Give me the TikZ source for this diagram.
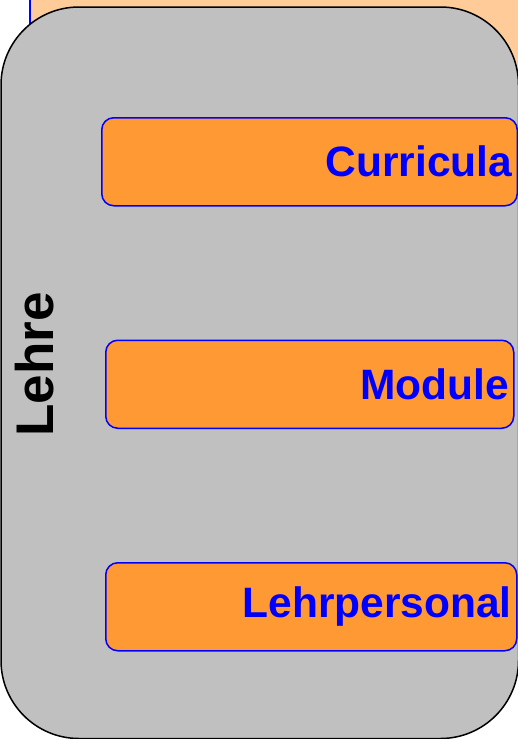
\documentclass[tikz,border=0pt]{standalone}
\usepackage{fontspec}
\setmainfont{Liberation Sans}
\usepackage{tikz}
\definecolor{peach}{HTML}{FFCC99}
\definecolor{boxorange}{HTML}{FF9933}
\definecolor{panelgray}{HTML}{C0C0C0}

\begin{document}
\begin{tikzpicture}[
    x = 1pt, y = -1pt,
    panel/.style = {draw, line width=1.5pt, fill=panelgray, rounded corners=78pt},
    item/.style = {draw=blue, line width=1.5pt, fill=boxorange,
      rounded corners=12pt, minimum height=88pt, inner xsep=5pt,
      align=right, text=blue, anchor=north west,
      font=\fontsize{42.5}{50}\selectfont\bfseries}
    ]
    \useasboundingbox (0,0) rectangle (517,739);
    \draw[blue, line width=1.5pt, fill=peach] (30,-10) rectangle (560,200);
    \draw[panel] (1,7) rectangle (518.5,738.5);
    \node[rotate=90, anchor=base, font=\fontsize{53}{60}\selectfont\bfseries]
      (lehre) at (53,364.5) {Lehre};
    \node[item, text width=405.5pt] (curricula) at (101,117) {Curricula};
    \node[item, text width=398pt] (module) at (105,339.5) {Module};
    \node[item, text width=401pt] (personal) at (105,562) {Lehrpersonal};
\end{tikzpicture}
\end{document}
